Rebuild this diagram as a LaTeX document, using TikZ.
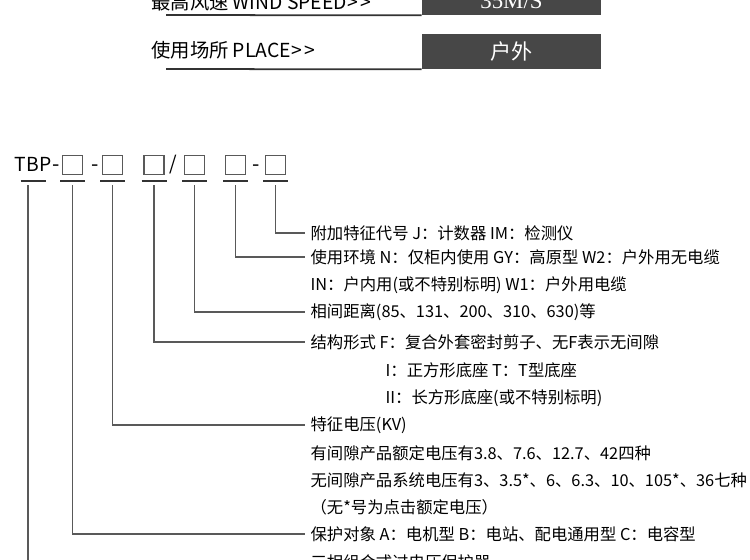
\documentclass[tikz,border=0pt]{standalone}
\usepackage{fontspec}
\setmainfont{Noto Sans CJK SC}[Ligatures=NoCommon]
\newfontfamily\tagserif{Liberation Serif}
\usetikzlibrary{calc,positioning}

\begin{document}
\begin{tikzpicture}[x=0.02cm,y=-0.02cm,
  codebox/.style={draw=black!65,line width=0.8pt,minimum width=0.4cm,minimum height=0.38cm,inner sep=0pt},
  hyph/.style={inner sep=0pt,anchor=base,font=\fontsize{12}{14}\selectfont},
  uline/.style={black!80,line width=1pt},
  lead/.style={black!65,line width=1pt},
  head/.style={anchor=west,inner sep=0pt,font=\fontsize{11}{13}\selectfont},
  tag/.style={fill=black!72,text=white,minimum width=3.58cm,minimum height=0.7cm,inner sep=0pt,font=\fontsize{12}{14}\selectfont},
  note/.style={anchor=west,inner xsep=3pt,inner ysep=0pt,font=\fontsize{9.3}{11}\selectfont}]
  \useasboundingbox (0,0) rectangle (750,559);
  % parameter rows (top)
  \node[head] (wind) at (151,2.5) {最高风速 WIND SPEED>\,>};
  \node[tag] (windv) at (511.5,-2.5) {};
  \node[text=white,inner sep=0pt,font=\tagserif\fontsize{13}{15}\selectfont] (windt) at (511.5,1) {35M/S};
  \draw[uline] (166,15) -- (windv.south west);
  \node[head] (place) at (151,50) {使用场所 PLACE>\,>};
  \node[tag] (placev) at (511.5,51.5) {户外};
  \draw[uline] (166,69) -- (placev.south west);
  % model code
  \node[inner sep=0pt,font=\fontsize{11}{13}\selectfont] (tbp) at (33,164) {TBP};
  \node[hyph] (d1) at (56.5,171) {-};
  \node[codebox] (b1) at (72.5,165) {};
  \node[hyph] (d2) at (95,171) {-};
  \node[codebox] (b2) at (112.5,165) {};
  \node[codebox] (b3) at (154,165) {};
  \node[inner sep=0pt,font=\fontsize{11}{13}\selectfont] (sl) at (173.5,165) {/};
  \node[codebox] (b4) at (194.5,165) {};
  \node[codebox] (b5) at (235.5,165) {};
  \node[hyph] (d3) at (256,171) {-};
  \node[codebox] (b6) at (275.5,165) {};
  \coordinate (ul) at (0,181);
  \coordinate (vt) at (0,185);
  \foreach \n in {tbp,b1,b2,b3,b4,b5,b6}
    \draw[uline] ($(\n |- ul)+(-12.5,0)$) -- ($(\n |- ul)+(12.5,0)$);
  % explanations
  \node[note] (r1) at (305,233) {附加特征代号 J：计数器 IM：检测仪};
  \node[note] (r2) at (305,257) {使用环境 N：仅柜内使用 GY：高原型 W2：户外用无电缆};
  \node[note] (r2b) at (305,285) {IN：户内用(或不特别标明) W1：户外用电缆};
  \node[note] (r3) at (305,312) {相间距离(85、131、200、310、630)等};
  \node[note] (r4) at (305,342) {结构形式 F：复合外套密封剪子、无F表示无间隙};
  \node[note] (r4b) at (380,370) {I：正方形底座 T：T型底座};
  \node[note] (r4c) at (380,398) {II：长方形底座(或不特别标明)};
  \node[note] (r5) at (305,425) {特征电压(KV)};
  \node[note] (r5b) at (305,453) {有间隙产品额定电压有3.8、7.6、12.7、42四种};
  \node[note] (r5c) at (305,480) {无间隙产品系统电压有3、3.5*、6、6.3、10、105*、36七种};
  \node[note] (r5d) at (305,507) {（无*号为点击额定电压）};
  \node[note] (r6) at (305,534) {保护对象 A：电机型 B：电站、配电通用型 C：电容型};
  \node[note] (r7) at (305,562) {三相组合式过电压保护器};
  % leaders
  \draw[lead] (b6 |- vt) |- (r1.west);
  \draw[lead] (b5 |- vt) |- (r2.west);
  \draw[lead] (b4 |- vt) |- (r3.west);
  \draw[lead] (b3 |- vt) |- (r4.west);
  \draw[lead] (b2 |- vt) |- (r5.west);
  \draw[lead] (b1 |- vt) |- (r6.west);
  \draw[lead] ([xshift=-3pt]tbp |- vt) |- (r7.west);
\end{tikzpicture}
\end{document}
